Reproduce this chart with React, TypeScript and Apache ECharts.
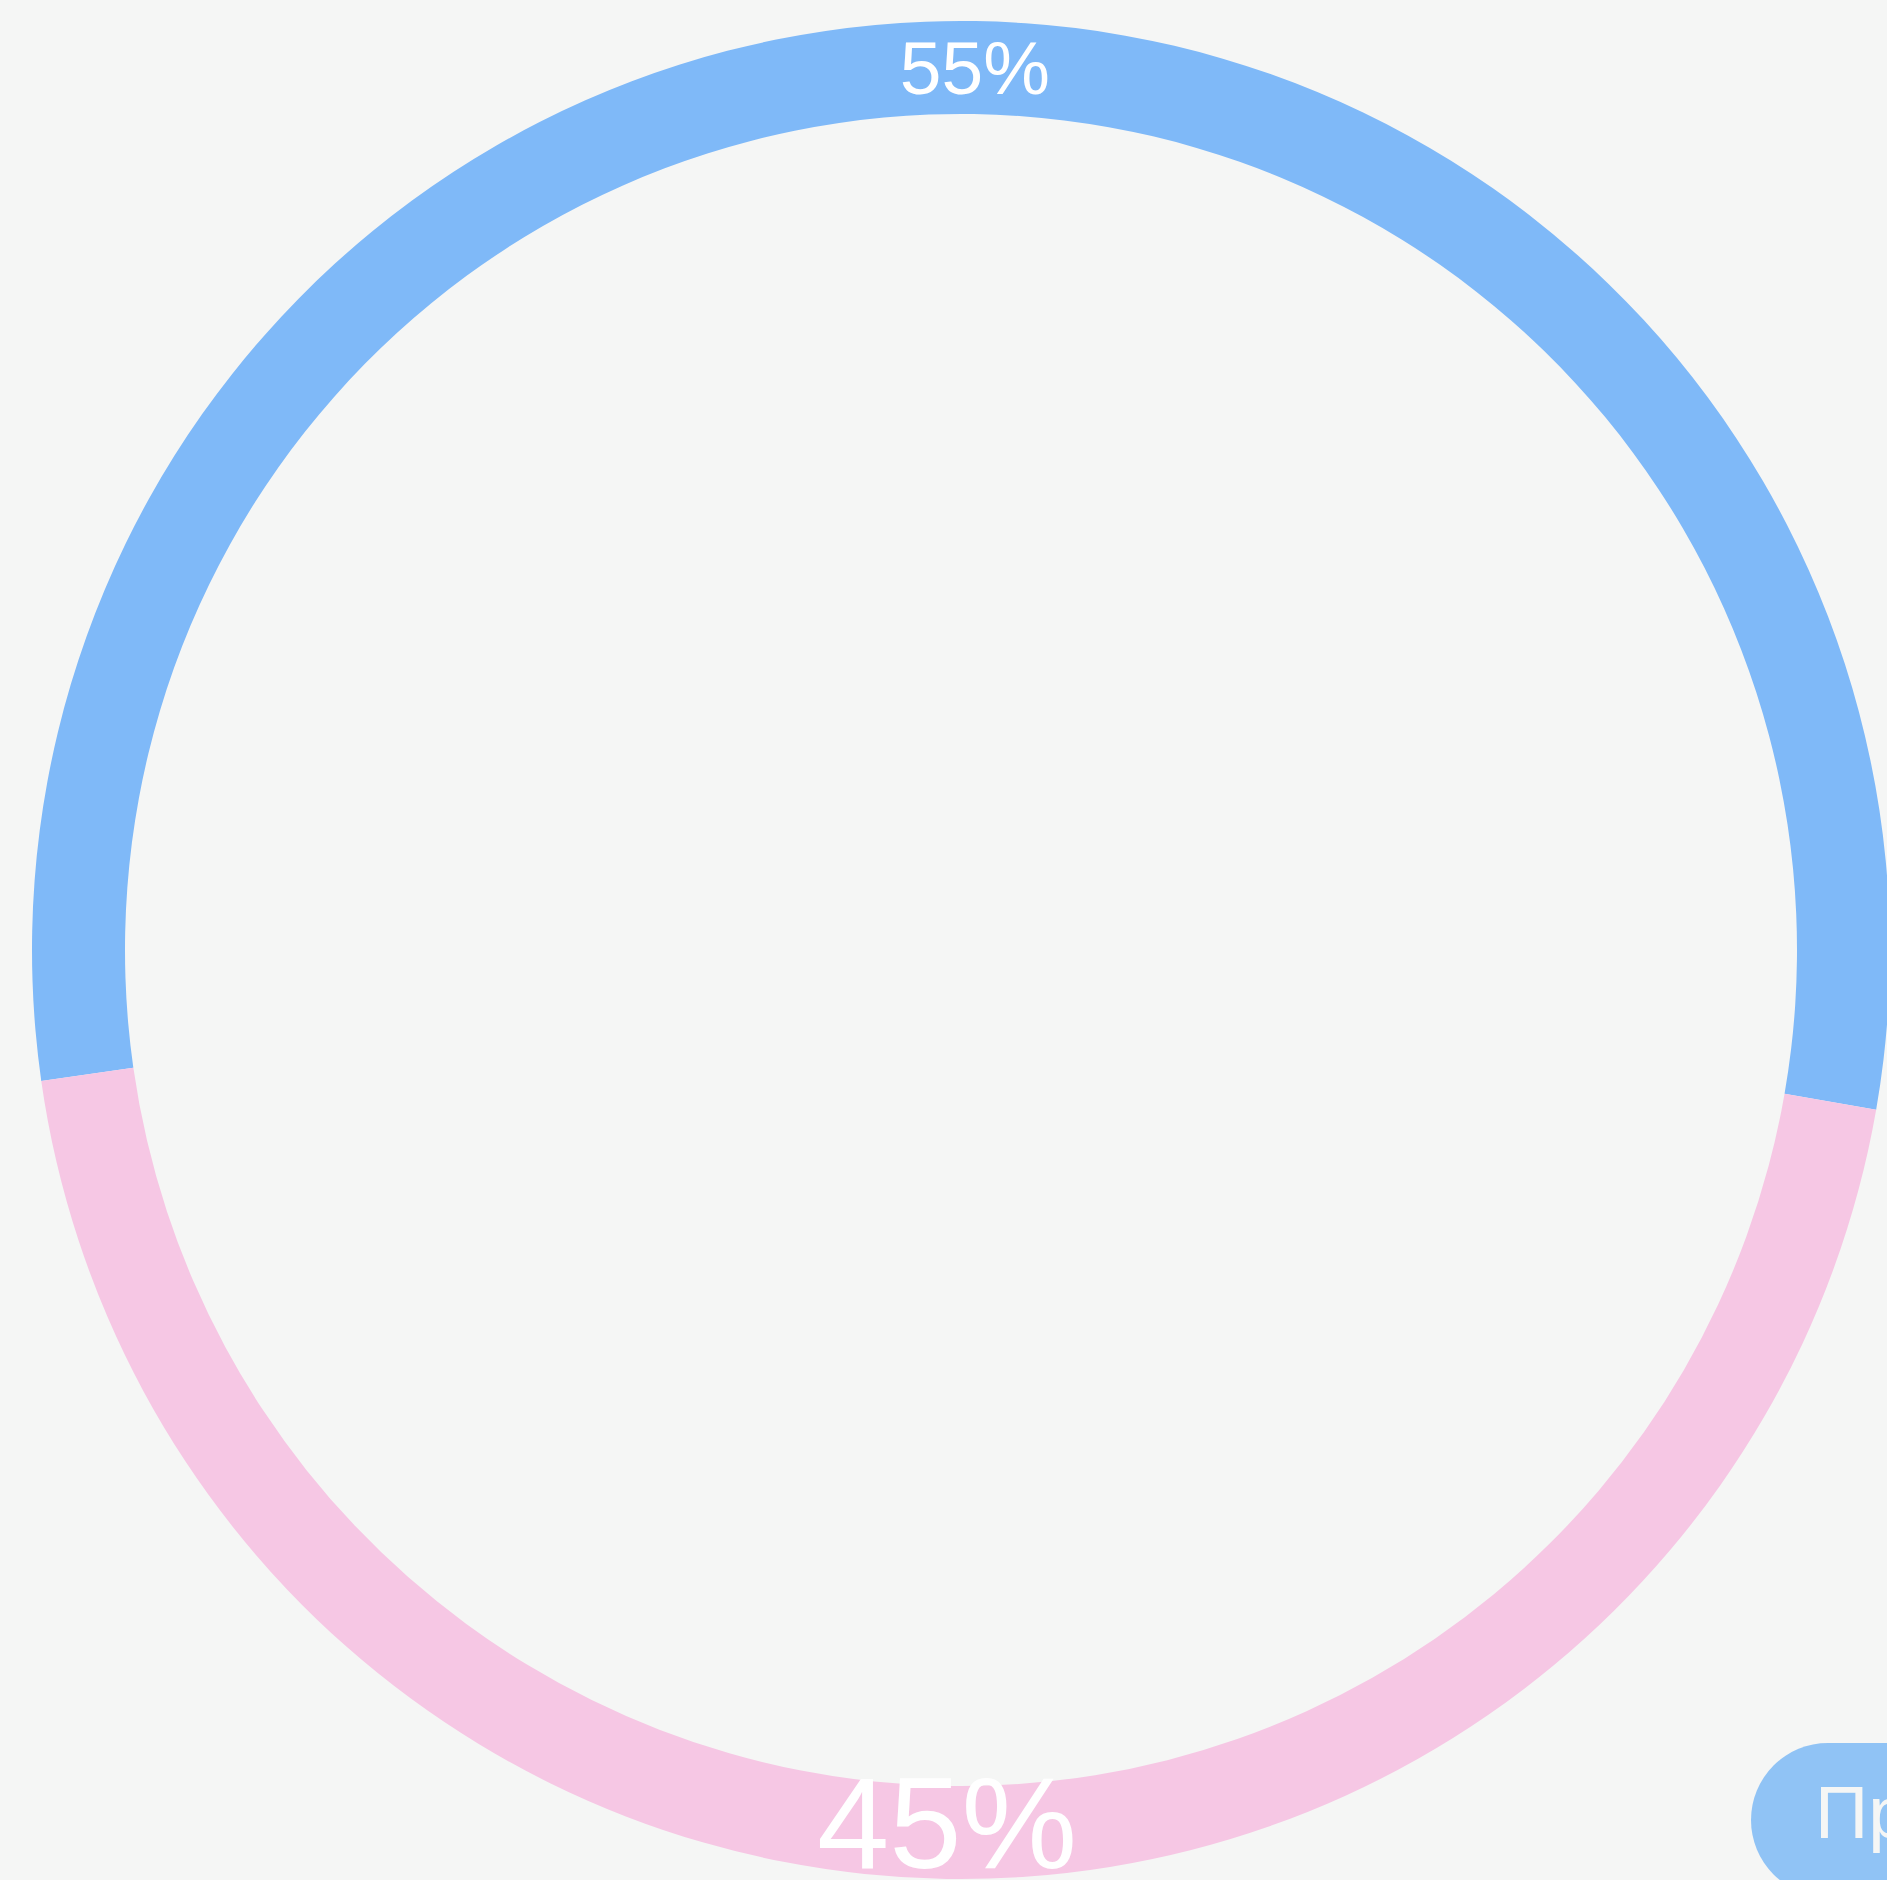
import React, { useEffect, useRef } from "react";
import * as echarts from "echarts";

const categories = ["Да", "Нет"];
const values = [55, 45];
const colors = ["#7fb9f8", "#f6c7e4"];
const labelSizes = [75, 130];
const labelShifts = [3, -12];
const buttonText = "Пройти тест";

export default function App() {
  const ref = useRef<HTMLDivElement>(null);
  useEffect(() => {
    if (!ref.current) return;
    const chart = echarts.init(ref.current, null, { renderer: "svg" });
    chart.setOption({
      animation: false,
      backgroundColor: "#f5f6f5",
      series: [
        {
          type: "pie",
          center: [961, 950],
          radius: [836, 929],
          startAngle: 188.1,
          clockwise: true,
          silent: true,
          avoidLabelOverlap: false,
          labelLine: { show: false },
          data: categories.map((name, i) => ({
            name,
            value: values[i],
            itemStyle: { color: colors[i] },
            label: {
              show: true,
              position: "inside",
              formatter: "{d}%",
              color: "#ffffff",
              fontSize: labelSizes[i],
              fontFamily: "Liberation Sans",
              offset: [0, labelShifts[i]],
            },
          })),
        },
      ],
      graphic: [
        {
          type: "rect",
          shape: { x: 1751, y: 1743, width: 600, height: 154, r: 77 },
          style: { fill: "#90c3f5" },
          z: 10,
        },
        {
          type: "text",
          x: 1815,
          y: 1812,
          z: 11,
          style: {
            text: buttonText,
            fill: "#f5f6f5",
            fontSize: 74,
            fontFamily: "Liberation Sans",
            verticalAlign: "middle",
            align: "left",
          },
        },
      ],
    });
    return () => chart.dispose();
  }, []);
  return (
    <div
      ref={ref}
      style={{ position: "fixed", left: 0, top: 0, width: 1887, height: 1880 }}
    />
  );
}
